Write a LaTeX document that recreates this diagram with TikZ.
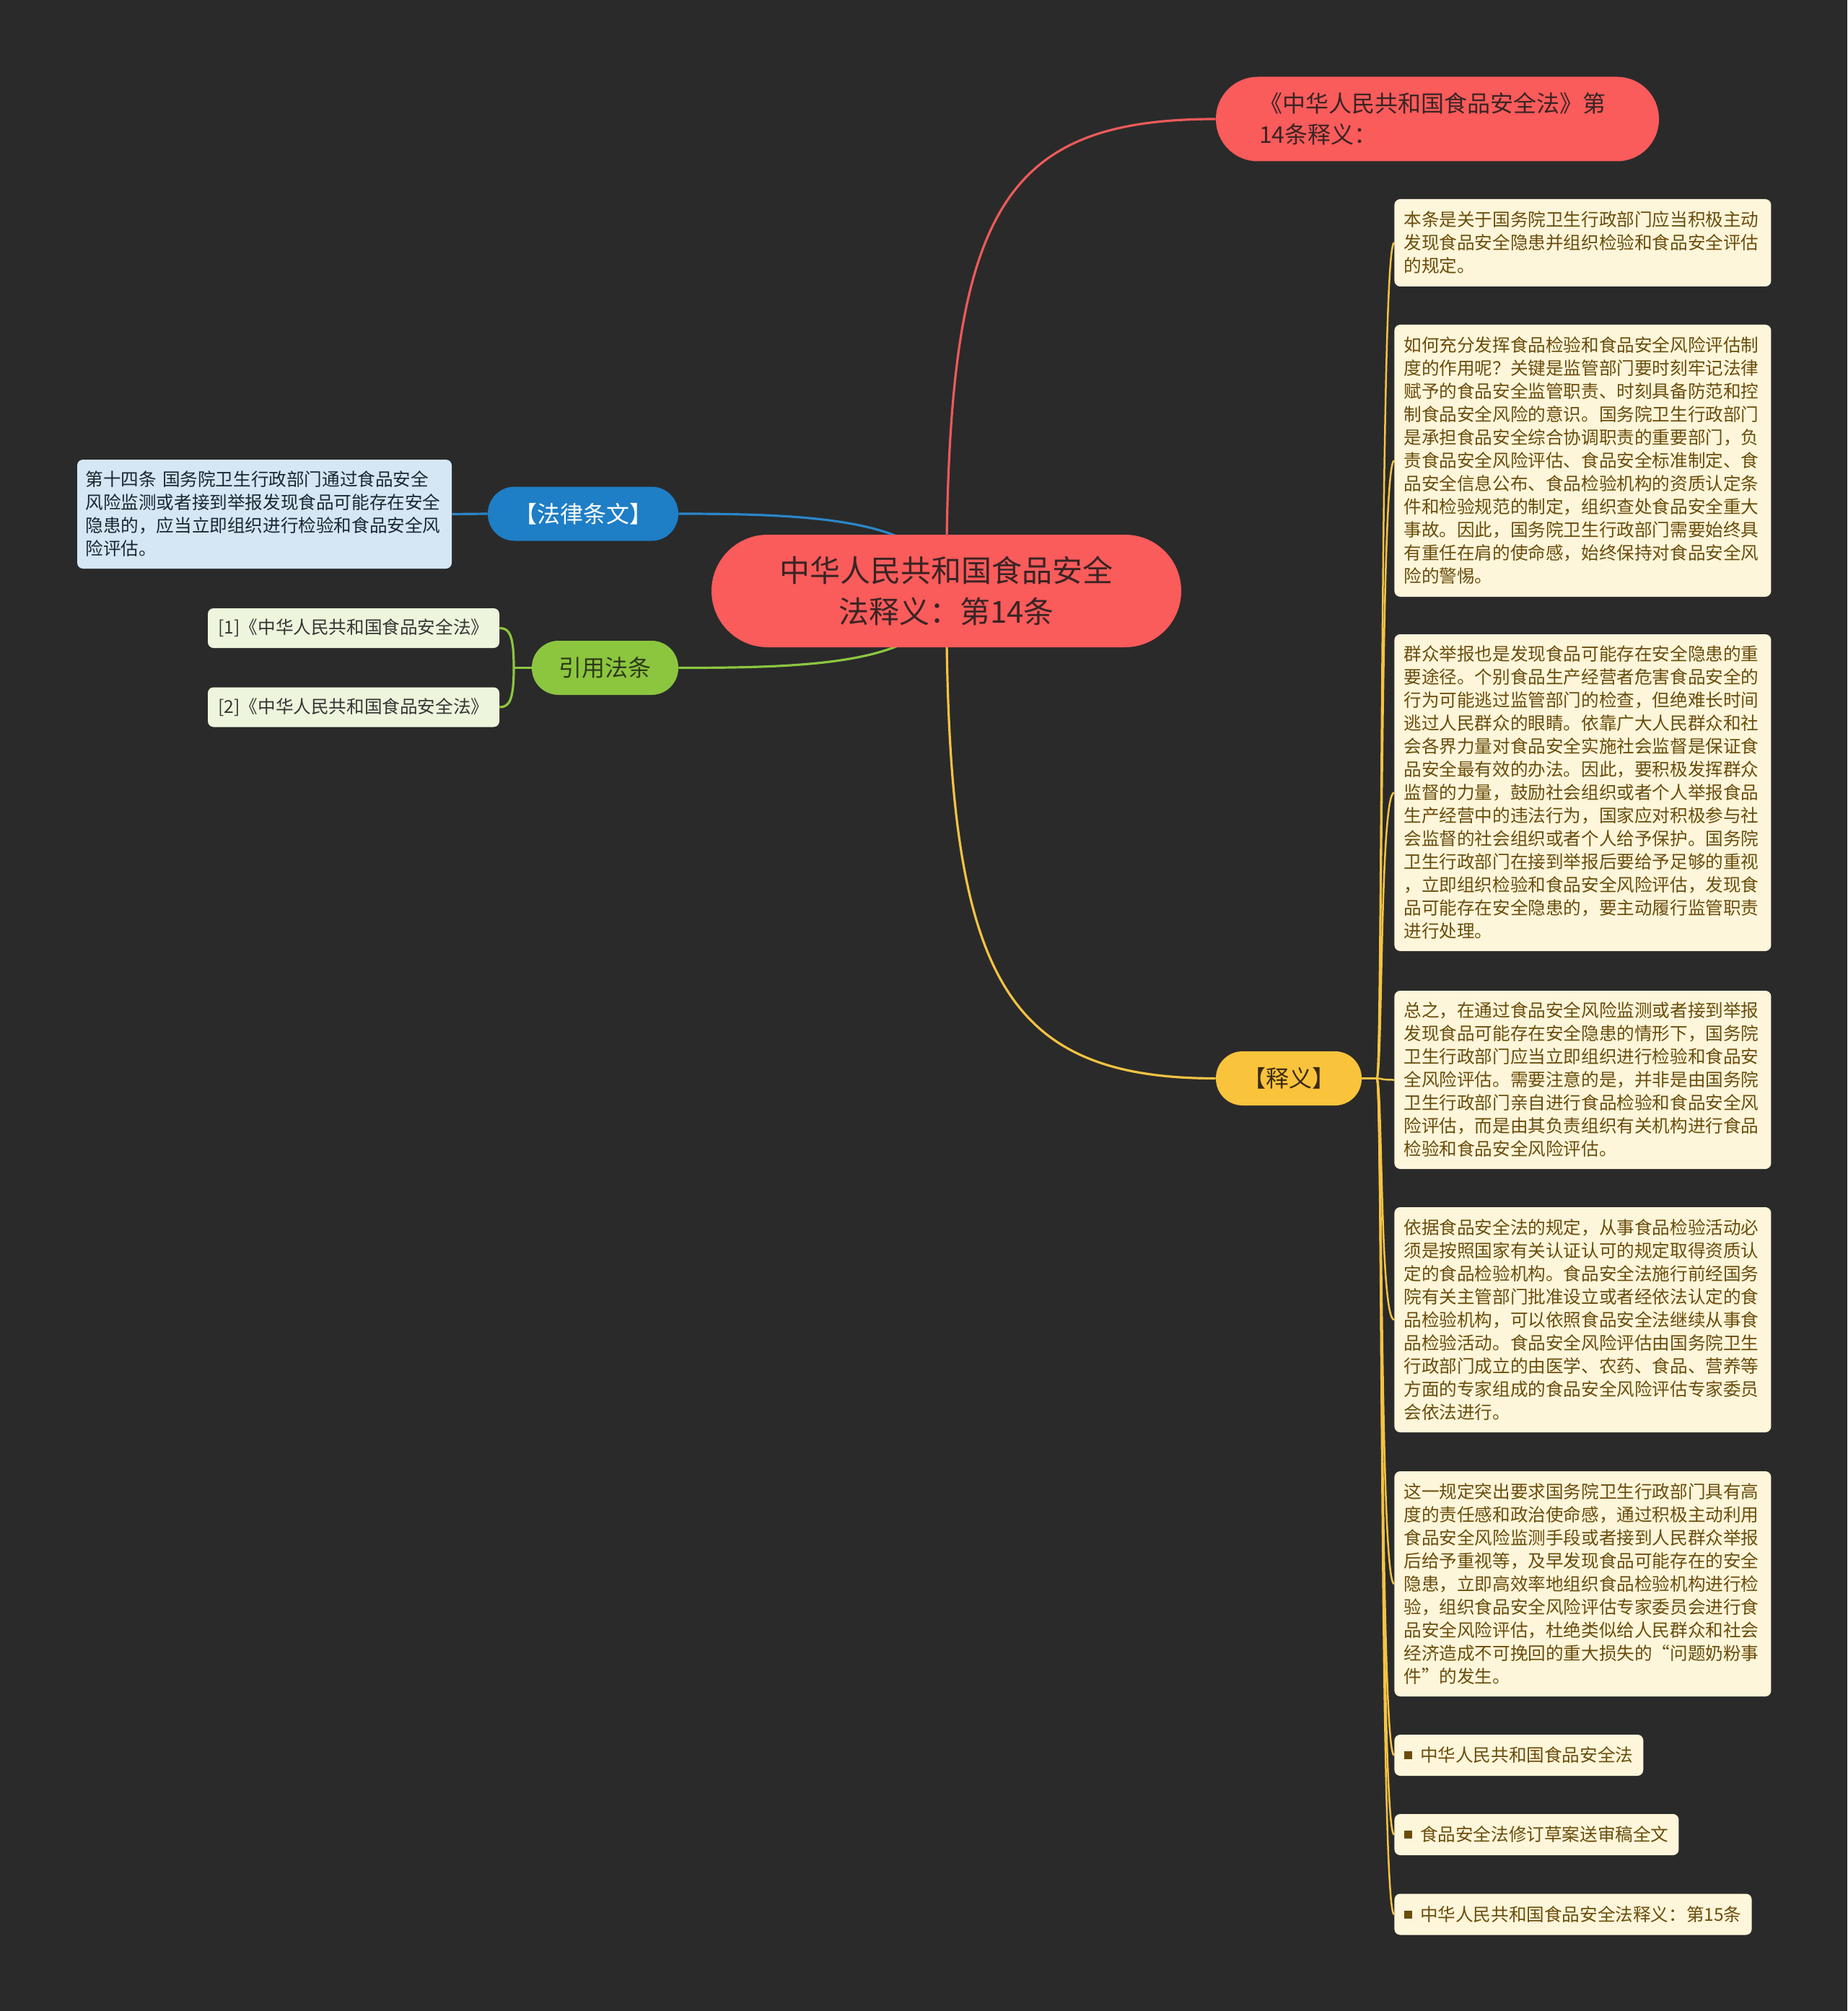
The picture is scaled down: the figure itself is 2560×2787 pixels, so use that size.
\documentclass[tikz,border=0pt]{standalone}
\usepackage{fontspec}
\setmainfont{Noto Sans CJK SC}
\pgfdeclarelayer{bg}
\pgfsetlayers{bg,main}
\definecolor{bgc}{HTML}{2A2A2A}
\definecolor{redc}{HTML}{FA5B5B}
\definecolor{redline}{HTML}{EE5A5A}
\definecolor{redtext}{HTML}{3A2424}
\definecolor{bluec}{HTML}{1E7EC6}
\definecolor{blueline}{HTML}{2A86C9}
\definecolor{lblue}{HTML}{D5E7F5}
\definecolor{bluetext}{HTML}{1B2633}
\definecolor{greenc}{HTML}{8CC63F}
\definecolor{lgreen}{HTML}{EDF5DC}
\definecolor{greentext}{HTML}{2E3A1A}
\definecolor{citetext}{HTML}{353535}
\definecolor{yellowc}{HTML}{F9C33C}
\definecolor{yellowline}{HTML}{F5C343}
\definecolor{yellowtext}{HTML}{3A2A10}
\definecolor{cream}{HTML}{FEF6DA}
\definecolor{browntext}{HTML}{6A4D0C}
\begin{document}
\begin{tikzpicture}[x=0.5pt,y=-0.5pt,
  rootnode/.style={fill=redc, text=redtext, minimum width=325.5pt, minimum height=78pt,
    rounded corners=39pt, font=\fontsize{21pt}{28.5pt}\selectfont, align=center,
    text width=300pt, inner sep=0pt},
  topnode/.style={fill=redc, text=redtext, minimum width=307pt, minimum height=58.5pt,
    rounded corners=29pt, font=\fontsize{16pt}{21.5pt}\selectfont, align=left,
    text width=247pt, inner xsep=30pt, inner ysep=0pt},
  lvlone/.style={minimum height=37.5pt, rounded corners=18.5pt,
    font=\fontsize{16pt}{20pt}\selectfont, inner sep=0pt},
  creambox/.style={fill=cream, text=browntext, rounded corners=4pt, text width=248pt,
    inner xsep=6.5pt, inner ysep=0pt, align=left, anchor=west,
    font=\fontsize{12.3pt}{16pt}\selectfont},
  smallbox/.style={fill=cream, text=browntext, rounded corners=4pt, inner xsep=7pt,
    inner ysep=0pt, minimum height=28.5pt, anchor=west,
    font=\fontsize{12.3pt}{16pt}\selectfont},
  lawbox/.style={fill=lblue, text=bluetext, rounded corners=4pt, text width=248pt,
    inner xsep=5.75pt, inner ysep=0pt, align=left, minimum height=75.5pt,
    font=\fontsize{12.3pt}{16pt}\selectfont},
  citebox/.style={fill=lgreen, text=citetext, rounded corners=4pt, minimum width=202pt,
    minimum height=27.5pt, inner sep=0pt, font=\fontsize{12.3pt}{16pt}\selectfont},
  mainline/.style={line width=1.6pt},
  subline/.style={line width=1.25pt, yellowline}
]
\useasboundingbox (0,0) rectangle (2560,2787);

% root and first level
\node[rootnode] (root) at (1311.5,819) {中华人民共和国食品安全\\法释义：第14条};
\node[topnode] (top) at (1992,165) {《中华人民共和国食品安全法》第\\14条释义：};
\node[lvlone, fill=bluec, text=white, minimum width=132pt] (law) at (808,712) {【法律条文】};
\node[lvlone, fill=greenc, text=greentext, minimum width=101.5pt] (cite) at (838.5,925.5) {引用法条};
\node[lvlone, fill=yellowc, text=yellowtext, minimum width=101pt] (shiyi) at (1786,1494.5) {【释义】};

% left side
\node[lawbox] (lawtext) at (366.5,712.5) {第十四条 国务院卫生行政部门通过食品安全\\风险监测或者接到举报发现食品可能存在安全\\隐患的，应当立即组织进行检验和食品安全风\\险评估。};
\node[citebox] (c1) at (490,870.5) {[1]《中华人民共和国食品安全法》};
\node[citebox] (c2) at (490,980) {[2]《中华人民共和国食品安全法》};

% right side
\node[creambox, minimum height=60.5pt] (b1) at (1932,336.5) {本条是关于国务院卫生行政部门应当积极主动\\发现食品安全隐患并组织检验和食品安全评估\\的规定。};
\node[creambox, minimum height=188.5pt] (b2) at (1932,638.5) {如何充分发挥食品检验和食品安全风险评估制\\度的作用呢？关键是监管部门要时刻牢记法律\\赋予的食品安全监管职责、时刻具备防范和控\\制食品安全风险的意识。国务院卫生行政部门\\是承担食品安全综合协调职责的重要部门，负\\责食品安全风险评估、食品安全标准制定、食\\品安全信息公布、食品检验机构的资质认定条\\件和检验规范的制定，组织查处食品安全重大\\事故。因此，国务院卫生行政部门需要始终具\\有重任在肩的使命感，始终保持对食品安全风\\险的警惕。};
\node[creambox, minimum height=219.5pt] (b3) at (1932,1098.5) {群众举报也是发现食品可能存在安全隐患的重\\要途径。个别食品生产经营者危害食品安全的\\行为可能逃过监管部门的检查，但绝难长时间\\逃过人民群众的眼睛。依靠广大人民群众和社\\会各界力量对食品安全实施社会监督是保证食\\品安全最有效的办法。因此，要积极发挥群众\\监督的力量，鼓励社会组织或者个人举报食品\\生产经营中的违法行为，国家应对积极参与社\\会监督的社会组织或者个人给予保护。国务院\\卫生行政部门在接到举报后要给予足够的重视\\，立即组织检验和食品安全风险评估，发现食\\品可能存在安全隐患的，要主动履行监管职责\\进行处理。};
\node[creambox, minimum height=123.5pt] (b4) at (1932,1496.5) {总之，在通过食品安全风险监测或者接到举报\\发现食品可能存在安全隐患的情形下，国务院\\卫生行政部门应当立即组织进行检验和食品安\\全风险评估。需要注意的是，并非是由国务院\\卫生行政部门亲自进行食品检验和食品安全风\\险评估，而是由其负责组织有关机构进行食品\\检验和食品安全风险评估。};
\node[creambox, minimum height=156pt] (b5) at (1932,1829) {依据食品安全法的规定，从事食品检验活动必\\须是按照国家有关认证认可的规定取得资质认\\定的食品检验机构。食品安全法施行前经国务\\院有关主管部门批准设立或者经依法认定的食\\品检验机构，可以依照食品安全法继续从事食\\品检验活动。食品安全风险评估由国务院卫生\\行政部门成立的由医学、农药、食品、营养等\\方面的专家组成的食品安全风险评估专家委员\\会依法进行。};
\node[creambox, minimum height=156pt] (b6) at (1932,2195) {这一规定突出要求国务院卫生行政部门具有高\\度的责任感和政治使命感，通过积极主动利用\\食品安全风险监测手段或者接到人民群众举报\\后给予重视等，及早发现食品可能存在的安全\\隐患，立即高效率地组织食品检验机构进行检\\验，组织食品安全风险评估专家委员会进行食\\品安全风险评估，杜绝类似给人民群众和社会\\经济造成不可挽回的重大损失的“问题奶粉事\\件”的发生。};
\node[smallbox] (b7) at (1932,2432.5) {\rule[0.16em]{0.43em}{0.43em}\hspace{0.45em}中华人民共和国食品安全法};
\node[smallbox] (b8) at (1932,2542.5) {\rule[0.16em]{0.43em}{0.43em}\hspace{0.45em}食品安全法修订草案送审稿全文};
\node[smallbox] (b9) at (1932,2653) {\rule[0.16em]{0.43em}{0.43em}\hspace{0.45em}中华人民共和国食品安全法释义：第15条};

\begin{pgfonlayer}{bg}
\fill[bgc] (0,0) rectangle (2560,2787);
% red
\draw[mainline, redline] (root.center) .. controls (1311.5,300) and (1380,165) .. (top.west);
% blue
\draw[mainline, blueline] (root.center) .. controls (1300,720) and (1130,712) .. (law.east);
\draw[mainline, blueline] (law.west) -- (lawtext.east);
% green
\draw[mainline, greenc] (root.center) .. controls (1300,920) and (1130,925.5) .. (cite.east);
\coordinate (gj) at (712,925.5);
\draw[mainline, greenc] (cite.west) -- (gj);
\draw[mainline, greenc] (gj) .. controls (712,880) and (706,870.5) .. (c1.east);
\draw[mainline, greenc] (gj) .. controls (712,970) and (706,980) .. (c2.east);
% yellow
\draw[mainline, yellowline] (root.center) .. controls (1311.5,1340) and (1380,1494.5) .. (shiyi.west);
\coordinate (yj) at (1908,1494.5);
\draw[subline] (shiyi.east) -- (yj);
\foreach \b in {b1,b2,b3,b4,b5,b6,b7,b8,b9}{
  \draw[subline] (yj) .. controls (1916,1494.5) and ([xshift=-10pt]\b.west) .. (\b.west);
}
\end{pgfonlayer}
\end{tikzpicture}
\end{document}
